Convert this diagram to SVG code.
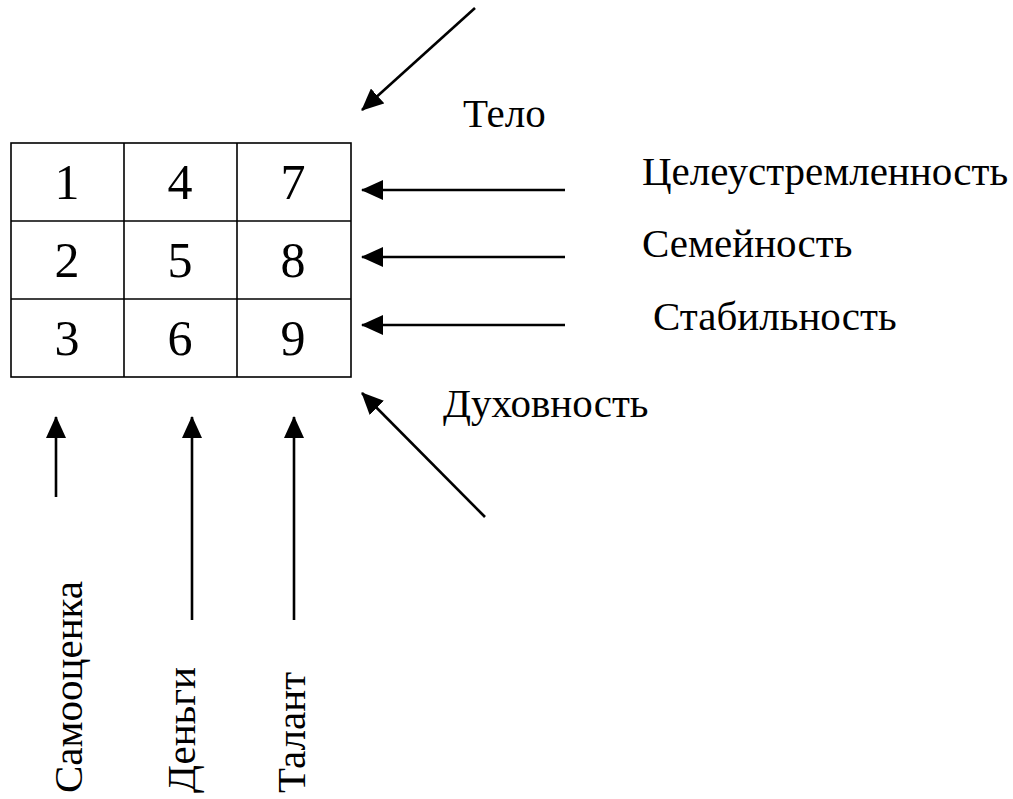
<svg xmlns="http://www.w3.org/2000/svg" width="1013" height="799" viewBox="0 0 1013 799">
<style>
.t{font-family:'Liberation Serif','Times New Roman',Tinos,'DejaVu Serif',serif;fill:#000}
.lbl{font-size:41px}
.num{font-size:50px;text-anchor:middle}
.grid{fill:none;stroke:#000;stroke-width:1.6}
.arr{stroke:#000;stroke-width:2.6;fill:none;marker-end:url(#ah)}
</style>
<defs>
<marker id="ah" markerUnits="userSpaceOnUse" viewBox="0 0 22 20" markerWidth="22" markerHeight="20" refX="21" refY="10" orient="auto">
<path d="M0,0 L22,10 L0,20 z" fill="#000"/>
</marker>
</defs>
<rect width="1013" height="799" fill="#fff"/>
<g id="grid">
<rect class="grid" x="11" y="143" width="340" height="234"/>
<line class="grid" x1="124" y1="143" x2="124" y2="377"/>
<line class="grid" x1="237" y1="143" x2="237" y2="377"/>
<line class="grid" x1="11" y1="221" x2="351" y2="221"/>
<line class="grid" x1="11" y1="299" x2="351" y2="299"/>
<text class="t num" font-family="Liberation Serif, serif" x="67" y="199">1</text>
<text class="t num" font-family="Liberation Serif, serif" x="180" y="199">4</text>
<text class="t num" font-family="Liberation Serif, serif" x="293" y="199">7</text>
<text class="t num" font-family="Liberation Serif, serif" x="67" y="277">2</text>
<text class="t num" font-family="Liberation Serif, serif" x="180" y="277">5</text>
<text class="t num" font-family="Liberation Serif, serif" x="293" y="277">8</text>
<text class="t num" font-family="Liberation Serif, serif" x="67" y="355">3</text>
<text class="t num" font-family="Liberation Serif, serif" x="180" y="355">6</text>
<text class="t num" font-family="Liberation Serif, serif" x="293" y="355">9</text>
</g>
<g id="connectors">
<line class="arr" x1="475" y1="8" x2="362" y2="110"/>
<line class="arr" x1="565" y1="190" x2="362" y2="190"/>
<line class="arr" x1="565" y1="257" x2="362" y2="257"/>
<line class="arr" x1="565" y1="325" x2="362" y2="325"/>
<line class="arr" x1="485" y1="517" x2="362" y2="393"/>
<line class="arr" x1="56" y1="497" x2="56" y2="417"/>
<line class="arr" x1="192" y1="620" x2="192" y2="417"/>
<line class="arr" x1="294" y1="620" x2="294" y2="417"/>
</g>
<g id="label-telo"><text class="t lbl" x="463" y="127">Тело</text></g>
<g id="label-tseleustremlennost"><text class="t lbl" x="642" y="185">Целеустремленность</text></g>
<g id="label-semeynost"><text class="t lbl" x="642" y="257">Семейность</text></g>
<g id="label-stabilnost"><text class="t lbl" x="653" y="330">Стабильность</text></g>
<g id="label-dukhovnost"><text class="t lbl" x="443" y="417">Духовность</text></g>
<g id="label-samootsenka"><text class="t lbl" transform="translate(82,793) rotate(-90)">Самооценка</text></g>
<g id="label-dengi"><text class="t lbl" transform="translate(195,793) rotate(-90)">Деньги</text></g>
<g id="label-talant"><text class="t lbl" transform="translate(305,793) rotate(-90)">Талант</text></g>
</svg>
